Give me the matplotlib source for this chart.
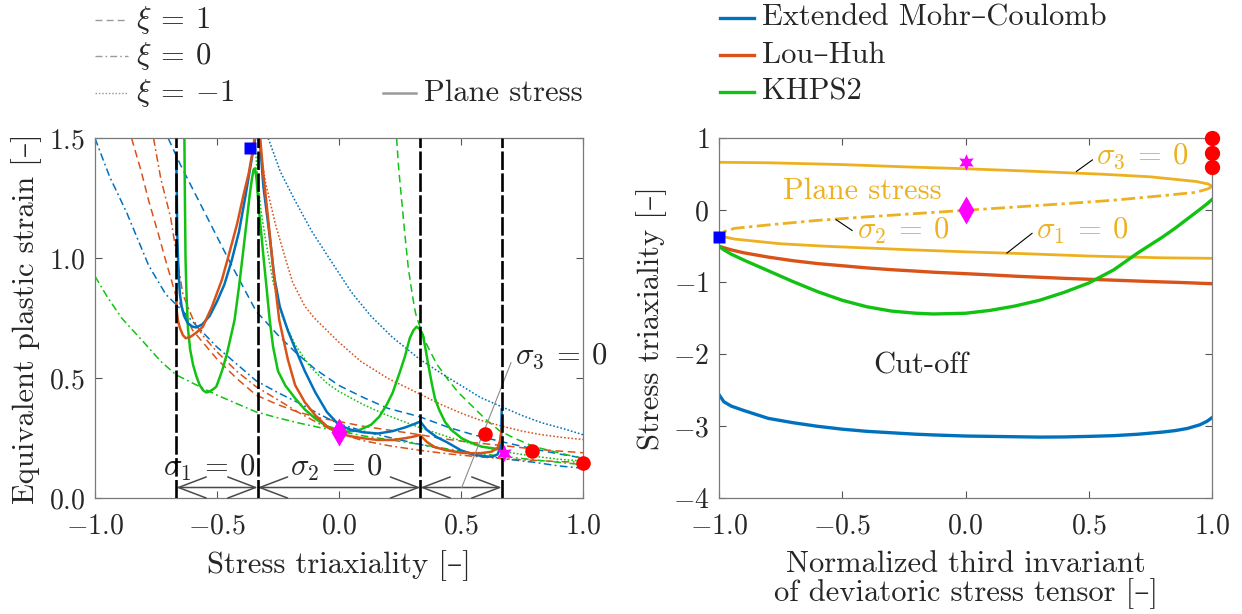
import matplotlib
matplotlib.use("Agg")
import matplotlib.pyplot as plt
from matplotlib.lines import Line2D
from matplotlib.ticker import FixedLocator, FuncFormatter

# ---------------------------------------------------------------- data
# Fracture loci (equivalent plastic strain vs stress triaxiality)
# Extended Mohr-Coulomb
emc_xi1_eta = [-0.70, -0.65, -0.60, -0.52, -0.45, -0.34, -0.25, -0.18, -0.10, 0.00, 0.10, 0.20, 0.33, 0.45, 0.55, 0.67, 0.80, 0.90, 1.00]
emc_xi1_eps = [1.50, 1.39, 1.29, 1.13, 0.99, 0.78, 0.68, 0.61, 0.54, 0.47, 0.42, 0.375, 0.34, 0.295, 0.265, 0.235, 0.205, 0.185, 0.168]
emc_xi0_eta = [-1.00, -0.94, -0.87, -0.78, -0.71, -0.64, -0.585, -0.50, -0.42, -0.34, -0.25, -0.17, -0.08, 0.00, 0.10, 0.20, 0.33, 0.45, 0.55, 0.67, 0.80, 0.90, 1.00]
emc_xi0_eps = [1.50, 1.34, 1.19, 0.97, 0.85, 0.78, 0.72, 0.63, 0.56, 0.49, 0.44, 0.40, 0.35, 0.31, 0.28, 0.255, 0.225, 0.20, 0.185, 0.165, 0.15, 0.135, 0.125]
emc_xim1_eta = [-0.29, -0.24, -0.18, -0.11, -0.04, 0.05, 0.13, 0.22, 0.33, 0.42, 0.50, 0.58, 0.67, 0.75, 0.83, 0.92, 1.00]
emc_xim1_eps = [1.50, 1.36, 1.24, 1.11, 1.00, 0.86, 0.76, 0.67, 0.58, 0.52, 0.47, 0.42, 0.38, 0.345, 0.315, 0.29, 0.265]
emc_ps_a_eta = [-0.667, -0.665, -0.663, -0.658, -0.652, -0.645, -0.635, -0.62, -0.60, -0.585, -0.56, -0.53, -0.50, -0.47, -0.44, -0.41, -0.385, -0.365, -0.35, -0.34]
emc_ps_a_eps = [1.42, 1.30, 1.10, 0.95, 0.85, 0.80, 0.76, 0.73, 0.715, 0.712, 0.725, 0.76, 0.82, 0.89, 0.99, 1.11, 1.25, 1.37, 1.46, 1.52]
emc_ps_b_eta = [-0.333, -0.325, -0.31, -0.285, -0.265, -0.243, -0.21, -0.18, -0.14, -0.098, -0.05, 0.00, 0.05, 0.10, 0.16, 0.22, 0.27, 0.31, 0.333,
                0.36, 0.40, 0.44, 0.50, 0.55, 0.60, 0.63, 0.65, 0.66, 0.665, 0.667]
emc_ps_b_eps = [1.65, 1.50, 1.30, 1.10, 0.92, 0.80, 0.70, 0.625, 0.53, 0.443, 0.36, 0.305, 0.285, 0.275, 0.27, 0.28, 0.295, 0.31, 0.32,
                0.285, 0.255, 0.235, 0.20, 0.182, 0.174, 0.174, 0.183, 0.21, 0.27, 0.37]

# Lou-Huh
lh_xi1_eta = [-0.85, -0.81, -0.78, -0.74, -0.71, -0.67, -0.60, -0.50, -0.42, -0.34, -0.25, -0.17, -0.08, 0.00, 0.10, 0.20, 0.33, 0.45, 0.55, 0.67, 0.80, 0.90, 1.00]
lh_xi1_eps = [1.50, 1.36, 1.24, 1.10, 0.99, 0.85, 0.70, 0.58, 0.50, 0.43, 0.39, 0.36, 0.335, 0.32, 0.30, 0.285, 0.265, 0.245, 0.232, 0.22, 0.205, 0.197, 0.19]
lh_xi0_eta = [-0.76, -0.73, -0.69, -0.66, -0.64, -0.60, -0.56, -0.50, -0.42, -0.34, -0.25, -0.17, -0.08, 0.00, 0.10, 0.20, 0.33, 0.45, 0.55, 0.67, 0.80, 0.90, 1.00]
lh_xi0_eps = [1.50, 1.33, 1.17, 0.98, 0.85, 0.75, 0.68, 0.61, 0.53, 0.465, 0.41, 0.36, 0.31, 0.27, 0.24, 0.22, 0.20, 0.185, 0.175, 0.165, 0.158, 0.153, 0.15]
lh_xim1_eta = [-0.33, -0.30, -0.26, -0.22, -0.19, -0.14, -0.10, 0.00, 0.09, 0.20, 0.33, 0.42, 0.50, 0.58, 0.67, 0.75, 0.83, 0.92, 1.00]
lh_xim1_eps = [1.50, 1.31, 1.14, 1.00, 0.90, 0.80, 0.75, 0.65, 0.57, 0.50, 0.435, 0.39, 0.355, 0.325, 0.30, 0.28, 0.265, 0.253, 0.245]
lh_ps_a_eta = [-0.667, -0.665, -0.66, -0.652, -0.64, -0.628, -0.61, -0.585, -0.558, -0.52, -0.48, -0.45, -0.417, -0.39, -0.37, -0.355, -0.346, -0.34]
lh_ps_a_eps = [0.83, 0.78, 0.74, 0.71, 0.68, 0.667, 0.672, 0.69, 0.715, 0.80, 0.91, 1.02, 1.146, 1.27, 1.354, 1.44, 1.50, 1.55]
lh_ps_b_eta = [-0.333, -0.323, -0.31, -0.29, -0.27, -0.245, -0.21, -0.18, -0.14, -0.098, -0.05, 0.00, 0.05, 0.10, 0.16, 0.22, 0.27, 0.31, 0.331,
               0.36, 0.393, 0.44, 0.50, 0.53, 0.58, 0.625, 0.65, 0.66, 0.667]
lh_ps_b_eps = [1.65, 1.50, 1.35, 1.16, 0.96, 0.743, 0.58, 0.472, 0.40, 0.347, 0.30, 0.27, 0.258, 0.25, 0.243, 0.243, 0.25, 0.258, 0.264,
               0.235, 0.213, 0.20, 0.19, 0.188, 0.188, 0.194, 0.21, 0.24, 0.29]

# KHPS2
kh_xi1_eta = [0.236, 0.245, 0.257, 0.27, 0.284, 0.30, 0.314, 0.333, 0.36, 0.40, 0.45, 0.49, 0.55, 0.60, 0.66, 0.72, 0.80, 0.90, 1.00]
kh_xi1_eps = [1.50, 1.37, 1.24, 1.10, 0.96, 0.85, 0.77, 0.71, 0.64, 0.56, 0.49, 0.44, 0.38, 0.33, 0.28, 0.25, 0.215, 0.19, 0.165]
kh_xi0_eta = [-1.00, -0.95, -0.89, -0.80, -0.73, -0.667, -0.58, -0.50, -0.42, -0.34, -0.25, -0.17, -0.08, 0.00, 0.10, 0.20, 0.33, 0.45, 0.55, 0.67, 0.80, 0.90, 1.00]
kh_xi0_eps = [0.925, 0.84, 0.75, 0.65, 0.57, 0.514, 0.47, 0.43, 0.395, 0.36, 0.335, 0.315, 0.295, 0.28, 0.26, 0.245, 0.225, 0.205, 0.19, 0.175, 0.16, 0.15, 0.14]
kh_xim1_eta = [-0.345, -0.335, -0.32, -0.30, -0.27, -0.23, -0.18, -0.12, -0.05, 0.00, 0.10, 0.20, 0.33, 0.45, 0.55, 0.67, 0.80, 0.90, 1.00]
kh_xim1_eps = [1.50, 1.35, 1.20, 1.07, 0.90, 0.75, 0.64, 0.55, 0.48, 0.445, 0.39, 0.345, 0.295, 0.255, 0.225, 0.195, 0.175, 0.163, 0.155]
kh_ps_eta = [-0.634, -0.632, -0.629, -0.625, -0.619, -0.61, -0.598, -0.585, -0.571, -0.557, -0.544, -0.53, -0.515, -0.503, -0.49, -0.476,
             -0.46, -0.448, -0.428, -0.41, -0.393, -0.38, -0.366, -0.357, -0.35, -0.344, -0.338, -0.328, -0.318, -0.308, -0.298, -0.284,
             -0.27, -0.25, -0.22, -0.18, -0.14, -0.098, -0.05, 0.00, 0.036, 0.08, 0.131, 0.165, 0.195, 0.22, 0.25, 0.27, 0.29, 0.305,
             0.318, 0.33, 0.344, 0.355, 0.366, 0.38, 0.393, 0.41, 0.434, 0.46, 0.503, 0.54, 0.585, 0.62, 0.653, 0.667]
kh_ps_eps = [1.55, 1.30, 1.00, 0.85, 0.708, 0.62, 0.556, 0.51, 0.472, 0.45, 0.441, 0.445, 0.455, 0.465, 0.50, 0.542,
             0.60, 0.653, 0.743, 0.88, 1.026, 1.14, 1.264, 1.33, 1.37, 1.375, 1.33, 1.20, 1.097, 0.99, 0.889, 0.743,
             0.63, 0.53, 0.47, 0.417, 0.37, 0.333, 0.30, 0.284, 0.278, 0.283, 0.306, 0.34, 0.389, 0.44, 0.528, 0.59, 0.667, 0.70,
             0.715, 0.705, 0.68, 0.62, 0.556, 0.48, 0.417, 0.37, 0.319, 0.285, 0.25, 0.232, 0.215, 0.21, 0.205, 0.20]

# Stress-state boundaries of plane stress and the cross-section arrows
ps_boundaries = [-2/3, -1/3, 1/3, 2/3]

# Plane stress locus in (normalized third invariant, triaxiality) space
ps_s3_xi = [-1.00, -0.80, -0.50, -0.216, 0.00, 0.25, 0.5625, 0.75, 0.936, 0.985, 1.00]
ps_s3_eta = [0.667, 0.66, 0.635, 0.60, 0.577, 0.545, 0.50, 0.465, 0.40, 0.365, 0.333]
ps_s2_xi = [1.00, 0.985, 0.936, 0.79, 0.60, 0.437, 0.20, 0.00, -0.20, -0.437, -0.60, -0.79, -0.936, -0.985, -1.00]
ps_s2_eta = [0.333, 0.30, 0.25, 0.20, 0.14, 0.10, 0.045, 0.00, -0.045, -0.10, -0.14, -0.20, -0.25, -0.30, -0.333]
ps_s1_xi = [-1.00, -0.985, -0.936, -0.75, -0.5625, -0.25, 0.00, 0.216, 0.50, 0.80, 1.00]
ps_s1_eta = [-0.333, -0.365, -0.40, -0.465, -0.50, -0.545, -0.577, -0.60, -0.635, -0.66, -0.667]

# Cut-off triaxiality vs normalized third invariant
cut_xi = [-1.00, -0.98, -0.95, -0.90, -0.80, -0.70, -0.60, -0.50, -0.40, -0.30, -0.20, -0.13, 0.00, 0.10, 0.20, 0.30, 0.40,
          0.50, 0.60, 0.70, 0.80, 0.85, 0.90, 0.95, 0.98, 1.00]
cut_emc = [-2.56, -2.66, -2.72, -2.78, -2.89, -2.95, -3.00, -3.04, -3.07, -3.09, -3.11, -3.12, -3.135, -3.14, -3.145, -3.15, -3.148,
           -3.14, -3.13, -3.11, -3.08, -3.06, -3.03, -2.98, -2.93, -2.88]
cut_lh = [-0.50, -0.52, -0.55, -0.59, -0.65, -0.70, -0.74, -0.77, -0.80, -0.825, -0.845, -0.86, -0.88, -0.897, -0.915, -0.93, -0.945,
          -0.958, -0.97, -0.983, -0.995, -1.00, -1.006, -1.013, -1.017, -1.02]
cut_kh = [-0.50, -0.55, -0.61, -0.69, -0.84, -0.99, -1.13, -1.25, -1.34, -1.40, -1.43, -1.44, -1.43, -1.39, -1.33, -1.25, -1.14,
          -1.01, -0.83, -0.59, -0.37, -0.25, -0.12, 0.01, 0.09, 0.15]

# Experiments (triaxiality, fracture strain, normalized third invariant)
exp_circle_eta = [0.60, 0.79, 1.00]
exp_circle_eps = [0.267, 0.196, 0.148]
exp_circle_xi = [1.0, 1.0, 1.0]
exp_square_eta, exp_square_eps, exp_square_xi = -0.365, 1.46, -1.0
exp_diamond_eta, exp_diamond_eps, exp_diamond_xi = 0.0, 0.275, 0.0
exp_star_eta, exp_star_eps, exp_star_xi = 0.675, 0.19, 0.0

model_names = ["Extended Mohr\u2013Coulomb", "Lou\u2013Huh", "KHPS2"]
xi_labels = [r"$\xi \:=\: 1$", r"$\xi \:=\: 0$", r"$\xi \:=\: {-1}$"]

# ---------------------------------------------------------------- style
plt.rcParams["font.family"] = ["cmr10", "DejaVu Serif"]
plt.rcParams["mathtext.fontset"] = "cm"
plt.rcParams["font.size"] = 22
plt.rcParams["axes.unicode_minus"] = True
TXT = "#262626"
plt.rcParams["text.color"] = TXT

C_EMC = "#0072BD"
C_LH = "#D95319"
C_KH = "#12C212"
C_PS = "#EDB120"
GRAY = "#9a9a9a"

DASH = (0, (5, 3))
DASHDOT = (0, (5, 2.2, 1.2, 2.2))
DOT = (0, (1.1, 1.3))
LW_XI = 1.1
LW_PS = 1.8

W, H = 1242, 614
fig = plt.figure(figsize=(W / 100, H / 100), dpi=100)


def fx(x):
    return x / W


def fy(y):
    return 1 - y / H


def axes_px(x0, y0, x1, y1):
    return fig.add_axes([fx(x0), fy(y1), (x1 - x0) / W, (y1 - y0) / H])


def style_axes(ax, fmt):
    for s in ax.spines.values():
        s.set_color("#7a7a7a")
        s.set_linewidth(0.9)
    ax.tick_params(direction="in", length=5, width=0.8, top=True, right=True,
                   color="#555555", labelcolor=TXT, labelsize=20)
    ax.tick_params(axis="x", pad=11)
    ax.tick_params(axis="y", pad=7)
    ax.xaxis.set_major_formatter(FuncFormatter(lambda v, p: "$%.1f$" % v))
    ax.yaxis.set_major_formatter(FuncFormatter(lambda v, p: fmt % v))


def sig(i):
    return r"$\sigma_%d \:=\: 0$" % i


ax1 = axes_px(95, 138.3, 583, 498.3)
ax2 = axes_px(719, 138.3, 1212, 498.3)

# ---------------------------------------------------------------- left panel
for eta, eps, c in [(emc_xi1_eta, emc_xi1_eps, C_EMC), (lh_xi1_eta, lh_xi1_eps, C_LH), (kh_xi1_eta, kh_xi1_eps, C_KH)]:
    ax1.plot(eta, eps, color=c, lw=LW_XI, linestyle=DASH)
for eta, eps, c in [(emc_xi0_eta, emc_xi0_eps, C_EMC), (lh_xi0_eta, lh_xi0_eps, C_LH), (kh_xi0_eta, kh_xi0_eps, C_KH)]:
    ax1.plot(eta, eps, color=c, lw=LW_XI, linestyle=DASHDOT)
for eta, eps, c in [(emc_xim1_eta, emc_xim1_eps, C_EMC), (lh_xim1_eta, lh_xim1_eps, C_LH), (kh_xim1_eta, kh_xim1_eps, C_KH)]:
    ax1.plot(eta, eps, color=c, lw=LW_XI, linestyle=DOT)

ax1.plot(kh_ps_eta, kh_ps_eps, color=C_KH, lw=LW_PS)
ax1.plot(emc_ps_a_eta, emc_ps_a_eps, color=C_EMC, lw=LW_PS)
ax1.plot(emc_ps_b_eta, emc_ps_b_eps, color=C_EMC, lw=LW_PS)
ax1.plot(lh_ps_a_eta, lh_ps_a_eps, color=C_LH, lw=LW_PS)
ax1.plot(lh_ps_b_eta, lh_ps_b_eps, color=C_LH, lw=LW_PS)

for b in ps_boundaries:
    ax1.axvline(b, color="black", lw=1.9, linestyle=(0, (7, 1.3)), zorder=4)

arrow_y = 0.045
for a, b in zip(ps_boundaries[:-1], ps_boundaries[1:]):
    ax1.annotate("", xy=(b, arrow_y), xytext=(a, arrow_y),
                 arrowprops=dict(arrowstyle="<->,head_length=1.0,head_width=0.38",
                                 color="#4a4a4a", lw=1.1, mutation_scale=20,
                                 shrinkA=0, shrinkB=0), zorder=3)

ax1.text(-0.53, 0.128, sig(1), ha="center", va="center", fontsize=22, color=TXT)
ax1.text(-0.012, 0.128, sig(2), ha="center", va="center", fontsize=22, color=TXT)
ax1.text(0.72, 0.59, sig(3), ha="left", va="center", fontsize=22, color=TXT)
ax1.plot([0.503, 0.705], [arrow_y, 0.565], color="#8c8c8c", lw=0.8, zorder=3)

ax1.plot(exp_circle_eta, exp_circle_eps, "o", color="#FF0000", ms=10.5, mec="none", zorder=6, clip_on=False)
ax1.plot([exp_square_eta], [exp_square_eps], "s", color="#0000FF", ms=8.5, mec="none", zorder=6)
ax1.plot([exp_diamond_eta], [exp_diamond_eps], "d", color="#FF00FF", ms=14, mec="none", zorder=6)
ax1.plot([exp_star_eta], [exp_star_eps], marker=(6, 1, 0), color="#FF00FF", ms=12, mec="none", zorder=6, ls="none")

ax1.set_xlim(-1, 1)
ax1.set_ylim(0, 1.5)
ax1.xaxis.set_major_locator(FixedLocator([-1, -0.5, 0, 0.5, 1]))
ax1.yaxis.set_major_locator(FixedLocator([0, 0.5, 1.0, 1.5]))
style_axes(ax1, "$%.1f$")
ax1.set_xlabel("Stress triaxiality [\u2013]", fontsize=22, color=TXT)
ax1.set_ylabel("Equivalent plastic strain [\u2013]", fontsize=22, color=TXT)
ax1.xaxis.set_label_coords(0.5, -0.145)
ax1.yaxis.set_label_coords(-0.108, 0.5)

# ---------------------------------------------------------------- right panel
ax2.plot(ps_s3_xi, ps_s3_eta, color=C_PS, lw=2.0)
ax2.plot(ps_s2_xi, ps_s2_eta, color=C_PS, lw=2.0, linestyle=(0, (5, 1.6, 1.2, 1.6)))
ax2.plot(ps_s1_xi, ps_s1_eta, color=C_PS, lw=2.0)
ax2.plot(cut_xi, cut_lh, color=C_LH, lw=2.4)
ax2.plot(cut_xi, cut_kh, color=C_KH, lw=2.4)
ax2.plot(cut_xi, cut_emc, color=C_EMC, lw=2.4)

ax2.plot(exp_circle_xi, exp_circle_eta, "o", color="#FF0000", ms=11, mec="none", zorder=6, clip_on=False)
ax2.plot([exp_square_xi], [exp_square_eta], "s", color="#0000FF", ms=9, mec="none", zorder=6, clip_on=False)
ax2.plot([exp_diamond_xi], [exp_diamond_eta], "d", color="#FF00FF", ms=14, mec="none", zorder=6)
ax2.plot([exp_star_xi], [exp_star_eta], marker=(6, 1, 0), color="#FF00FF", ms=12, mec="none", zorder=6, ls="none")

ax2.text(-0.42, 0.27, "Plane stress", ha="center", va="center", fontsize=22, color=C_PS)
ax2.text(0.53, 0.745, sig(3), ha="left", va="center", fontsize=22, color=C_PS)
ax2.plot([0.45, 0.515], [0.54, 0.70], color="black", lw=0.8)
ax2.text(-0.44, -0.29, sig(2), ha="left", va="center", fontsize=22, color=C_PS)
ax2.plot([-0.525, -0.46], [-0.13, -0.28], color="black", lw=0.8)
ax2.text(0.285, -0.29, sig(1), ha="left", va="center", fontsize=22, color=C_PS)
ax2.plot([0.168, 0.27], [-0.594, -0.32], color="black", lw=0.8)
ax2.text(-0.18, -2.16, "Cut-off", ha="center", va="center", fontsize=22, color=TXT)

ax2.set_xlim(-1, 1)
ax2.set_ylim(-4, 1)
ax2.xaxis.set_major_locator(FixedLocator([-1, -0.5, 0, 0.5, 1]))
ax2.yaxis.set_major_locator(FixedLocator([-4, -3, -2, -1, 0, 1]))
style_axes(ax2, "$%.0f$")
ax2.set_xlabel("Normalized third invariant\nof deviatoric stress tensor [\u2013]", fontsize=22, color=TXT,
               linespacing=1.0)
ax2.set_ylabel("Stress triaxiality [\u2013]", fontsize=22, color=TXT)
ax2.xaxis.set_label_coords(0.5, -0.145)
ax2.yaxis.set_label_coords(-0.105, 0.5)

# ---------------------------------------------------------------- legends
def legend_row(x0, x1, y, label, **line_kw):
    fig.add_artist(Line2D([fx(x0), fx(x1)], [fy(y), fy(y)], transform=fig.transFigure, **line_kw))
    fig.text(fx(x1 + 8), fy(y), label, ha="left", va="center", fontsize=22, color=TXT)


for y, lab, ls in zip([20, 56, 93], xi_labels, [DASH, DASHDOT, DOT]):
    legend_row(95, 128, y, lab, color=GRAY, lw=1.0, linestyle=ls)
legend_row(383, 416, 93, "Plane stress", color=GRAY, lw=1.8)

for y, lab, c in zip([18, 55, 92], model_names, [C_EMC, C_LH, C_KH]):
    legend_row(720, 754, y, lab, color=c, lw=2.4)

fig.savefig("out.png", dpi=100)
